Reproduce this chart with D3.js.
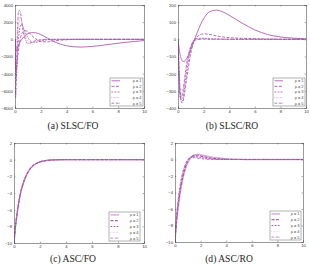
<!DOCTYPE html>
<html lang="en">
<head>
    <meta charset="UTF-8">
    <title>rho panels</title>
    <style>
        body{ margin:0; background:#fff; }
        .tick-lab{ font-family:"Liberation Sans",Arial,sans-serif; font-size:4.2px; fill:#333; }
        .cap{ font-family:"Liberation Serif","Times New Roman",serif; font-size:9.6px; fill:#222; text-anchor:middle; }
        .leg-lab{ font-family:"Liberation Sans",Arial,sans-serif; font-size:3.9px; fill:#444; }
    </style>
    <script src="https://cdn.jsdelivr.net/npm/d3@7/dist/d3.min.js"></script>
</head>
<body>
<script>
    var rhoNames = ["\u03c1 = 1","\u03c1 = 2","\u03c1 = 3","\u03c1 = 4","\u03c1 = 5"];
    var xTicks = [0,2,4,6,8,10];

    // (a) SLSC/FO
    var xsA = [0,0.05,0.1,0.15,0.2,0.3,0.4,0.5,0.6,0.8,1,1.3,1.6,2,2.5,3,3.5,4,5,6,7,8,9,10];
    var a1 = [0,-800,-1300,-1200,-1000,-600,-300,-50,150,450,650,780,760,550,150,-250,-550,-750,-900,-820,-650,-450,-280,-150];
    var a2 = [0,-2500,-3500,-3000,-2200,-900,0,550,850,1000,900,450,50,-250,-300,-200,-100,-50,0,0,0,0,0,0];
    var a3 = [0,-3800,-4500,-3000,-1500,500,1500,1750,1500,800,200,-300,-350,-200,-50,0,0,0,0,0,0,0,0,0];
    var a4 = [0,-5000,-5000,-2500,-300,2000,2600,2200,1500,400,-250,-400,-250,-80,0,0,0,0,0,0,0,0,0,0];
    var a5 = [0,-6800,-5000,-1500,1500,3400,3300,2300,1200,0,-500,-350,-150,-50,0,0,0,0,0,0,0,0,0,0];
    var yTicksA = [4000,2000,0,-2000,-4000,-6000,-8000];

    // (b) SLSC/RO
    var xsB = [0,0.1,0.2,0.3,0.4,0.5,0.6,0.8,1,1.2,1.5,2,2.5,3,3.5,4,5,6,7,8,9,10];
    var b1 = [0,-60,-100,-120,-130,-128,-120,-95,-60,-20,40,120,162,170,160,140,95,55,28,14,7,3];
    var b2 = [0,-200,-330,-370,-360,-320,-270,-170,-80,-20,15,32,28,20,14,10,6,4,2,1,0,0];
    var b3 = [0,-220,-345,-360,-340,-290,-230,-130,-50,-10,5,6,4,3,2,1,0,0,0,0,0,0];
    var b4 = [0,-240,-350,-345,-310,-260,-200,-110,-45,-12,0,3,2,1,0,0,0,0,0,0,0,0];
    var b5 = [0,-260,-340,-330,-290,-240,-180,-95,-40,-12,-2,1,0,0,0,0,0,0,0,0,0,0];
    var yTicksB = [200,100,0,-100,-200,-300,-400];

    // (c) ASC/FO
    var xsC = [0,0.1,0.25,0.5,0.75,1,1.25,1.5,2,2.5,3,4,10];
    var c1 = [-10,-8.3,-6.4,-4.1,-2.7,-1.75,-1.1,-0.7,-0.28,-0.1,-0.03,0,0];
    var c2 = [-10,-8.25,-6.35,-4.05,-2.65,-1.72,-1.08,-0.68,-0.27,-0.1,-0.03,0,0];
    var c3 = [-10,-8.2,-6.3,-4.0,-2.62,-1.7,-1.06,-0.67,-0.26,-0.09,-0.03,0,0];
    var c4 = [-10,-8.15,-6.25,-3.95,-2.6,-1.68,-1.05,-0.66,-0.26,-0.09,-0.03,0,0];
    var c5 = [-10,-8.1,-6.2,-3.9,-2.57,-1.66,-1.04,-0.65,-0.25,-0.09,-0.03,0,0];
    var yTicksC = [2,0,-2,-4,-6,-8,-10];

    // (d) ASC/RO
    var xsD = [0,0.1,0.25,0.5,0.75,1,1.25,1.5,1.75,2,2.5,3,4,5,6,10];
    var d1 = [-10,-8.0,-5.8,-3.2,-1.5,-0.4,0.25,0.55,0.6,0.55,0.4,0.25,0.1,0.03,0,0];
    var d2 = [-10,-7.8,-5.5,-2.9,-1.2,-0.2,0.3,0.45,0.45,0.4,0.25,0.12,0.03,0,0,0];
    var d3v = [-10,-7.6,-5.2,-2.6,-1.0,-0.1,0.3,0.35,0.3,0.25,0.12,0.05,0,0,0,0];
    var d4 = [-10,-7.4,-5.0,-2.4,-0.9,-0.05,0.25,0.28,0.22,0.15,0.06,0.02,0,0,0,0];
    var d5 = [-10,-7.2,-4.8,-2.2,-0.8,0,0.22,0.22,0.15,0.1,0.03,0,0,0,0,0];

    var width = 310, height = 266;
    var svg = d3.select("body").append("svg")
            .attr("width",width)
            .attr("height",height);

    var dashes = [null,"3,1.4","1.8,1.3","0.5,0.9","2.4,0.9,0.5,0.9"];
    var purple = ["#a447a8","#a447a8","#a447a8","#b36bb6","#a447a8"];
    var lowerCol = ["#d9a2dc","#9b3aa0","#a447a8","#dba8dd","#8a5a8e"];
    var lowerW = [1.4,1,0.9,0.9,0.7];

    var panels = [
        {box:[15,5,144,108], xs:xsA, ys:[a1,a2,a3,a4,a5], dom:[-8000,4000], yt:yTicksA, cap:"(a) SLSC/FO", cx:73, cy:129,
         leg:[110,78,143,106], col:purple, w:[0.8,0.8,0.8,0.8,0.8]},
        {box:[178,5,306,108], xs:xsB, ys:[b1,b2,b3,b4,b5], dom:[-400,200], yt:yTicksB, cap:"(b) SLSC/RO", cx:232, cy:129,
         leg:[273,78,305,106], col:purple, w:[0.8,0.8,0.8,0.8,0.8]},
        {box:[14,143,144,243], xs:xsC, ys:[c1,c2,c3,c4,c5], dom:[-10,2], yt:yTicksC, cap:"(c) ASC/FO", cx:73, cy:262,
         leg:[109,212,140,241], col:lowerCol, w:lowerW},
        {box:[175,143,303,242], xs:xsD, ys:[d1,d2,d3v,d4,d5], dom:[-10,2], yt:yTicksC, cap:"(d) ASC/RO", cx:229, cy:262,
         leg:[270,211,301,240], col:lowerCol, w:lowerW}
    ];

    panels.forEach(function(p){
        var x0 = p.box[0], y0 = p.box[1], x1 = p.box[2], y1 = p.box[3];
        var xScale = d3.scaleLinear().domain([0,10]).range([x0,x1]);
        var yScale = d3.scaleLinear().domain(p.dom).range([y1,y0]);
        var g = svg.append("g");

        // clip to the box
        var cid = "clip" + x0 + "_" + y0;
        svg.append("clipPath").attr("id",cid)
                .append("rect").attr("x",x0).attr("y",y0).attr("width",x1-x0).attr("height",y1-y0);

        var line = d3.line()
                .x(function(d){return xScale(d[0]);})
                .y(function(d){return yScale(d[1]);})
                .curve(d3.curveMonotoneX);

        var lines = g.append("g").attr("clip-path","url(#" + cid + ")");
        p.ys.forEach(function(ys,i){
            lines.append("path")
                    .attr("d",line(p.xs.map(function(v,j){return [v,ys[j]];})))
                    .attr("fill","none")
                    .attr("stroke",p.col[i])
                    .attr("stroke-width",p.w[i])
                    .attr("stroke-dasharray",dashes[i]);
        });

        // axes: bottom/left with labels, top/right ticks only, all inward
        var tk = 1.4;
        g.append("g").attr("transform","translate(0," + y1 + ")")
                .call(d3.axisBottom(xScale).tickValues(xTicks).tickSize(-tk).tickPadding(2.2).tickFormat(d3.format("d")));
        g.append("g").attr("transform","translate(0," + y0 + ")")
                .call(d3.axisTop(xScale).tickValues(xTicks).tickSize(-tk).tickFormat(""));
        g.append("g").attr("transform","translate(" + x0 + ",0)")
                .call(d3.axisLeft(yScale).tickValues(p.yt).tickSize(-tk).tickPadding(2).tickFormat(d3.format("d")));
        g.append("g").attr("transform","translate(" + x1 + ",0)")
                .call(d3.axisRight(yScale).tickValues(p.yt).tickSize(-tk).tickFormat(""));
        g.selectAll(".domain").attr("stroke","#555").attr("stroke-width",0.6);
        g.selectAll(".tick line").attr("stroke","#555").attr("stroke-width",0.5);
        g.selectAll(".tick text").attr("class","tick-lab").attr("font-size",null).attr("font-family",null).attr("fill",null);

        // legend
        var L = p.leg;
        g.append("rect").attr("x",L[0]).attr("y",L[1]).attr("width",L[2]-L[0]).attr("height",L[3]-L[1])
                .attr("fill","#fff").attr("stroke","#666").attr("stroke-width",0.5);
        var step = (L[3]-L[1]) / 5;
        rhoNames.forEach(function(name,i){
            var yy = L[1] + step*(i+0.5);
            g.append("line").attr("x1",L[0]+1.5).attr("x2",L[0]+10).attr("y1",yy).attr("y2",yy)
                    .attr("stroke",p.col[i]).attr("stroke-width",p.w[i]).attr("stroke-dasharray",dashes[i]);
            g.append("text").attr("class","leg-lab").attr("x",L[2]-1.5).attr("y",yy+1.4)
                    .attr("text-anchor","end").text(name);
        });

        // caption
        svg.append("text").attr("class","cap").attr("x",p.cx).attr("y",p.cy).text(p.cap);
    });
</script>
</body>
</html>
